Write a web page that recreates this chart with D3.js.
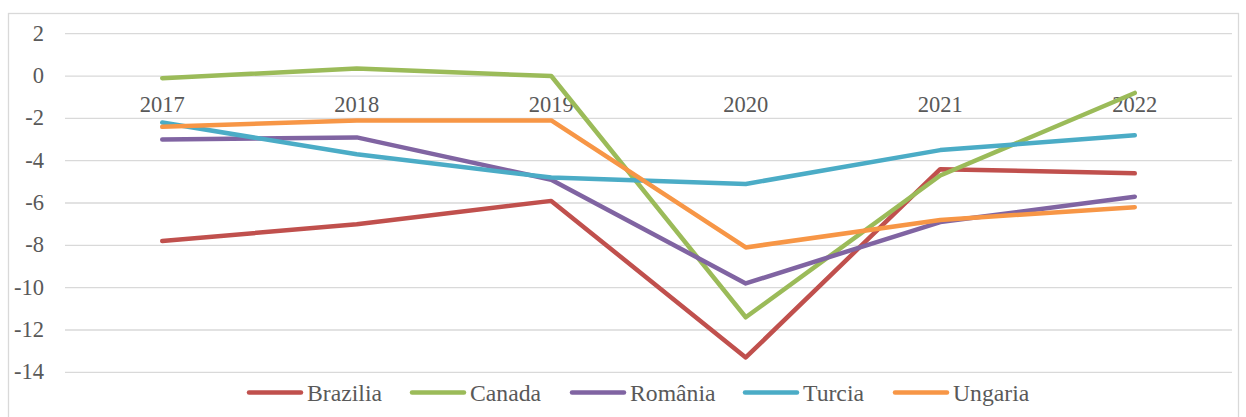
<!DOCTYPE html>
<html lang="en">
<head>
<meta charset="UTF-8">
<script src="https://d3js.org/d3.v7.min.js"></script>
<style>
    body { margin: 0; background: #fff; }
    svg text { font-family: "Liberation Serif", "Times New Roman", serif; fill: #595959; }
</style>
</head>
<body>
<svg width="1246" height="417"></svg>
<script>
    // chart data
    const years = ["2017", "2018", "2019", "2020", "2021", "2022"];
    const brazilia = [-7.8, -7.0, -5.9, -13.3, -4.4, -4.6];
    const canada = [-0.1, 0.35, 0.0, -11.4, -4.7, -0.8];
    const romania = [-3.0, -2.9, -4.9, -9.8, -6.9, -5.7];
    const turcia = [-2.2, -3.7, -4.8, -5.1, -3.5, -2.8];
    const ungaria = [-2.4, -2.1, -2.1, -8.1, -6.8, -6.2];
    const seriesNames = ["Brazilia", "Canada", "România", "Turcia", "Ungaria"];
    const yTicks = [2, 0, -2, -4, -6, -8, -10, -12, -14];

    const seriesValues = [brazilia, canada, romania, turcia, ungaria];
    const colors = ["#C0504D", "#9BBB59", "#8064A2", "#4BACC6", "#F79646"];

    const svg = d3.select("svg");

    // outer border
    svg.append("rect")
        .attr("x", 8.5).attr("y", 13.5)
        .attr("width", 1230).attr("height", 420)
        .attr("fill", "none")
        .attr("stroke", "#D9D9D9")
        .attr("stroke-width", 1.3);

    const x = d3.scaleBand().domain(years).range([65, 1232]);
    const y = d3.scaleLinear().domain([-14, 2]).range([372.3, 33.7]);

    // gridlines
    svg.append("g").selectAll("line")
        .data(yTicks)
        .join("line")
        .attr("x1", 65).attr("x2", 1232)
        .attr("y1", d => y(d)).attr("y2", d => y(d))
        .attr("stroke", "#D9D9D9")
        .attr("stroke-width", 1.3);

    // y tick labels
    svg.append("g").selectAll("text")
        .data(yTicks)
        .join("text")
        .attr("x", 44)
        .attr("y", d => y(d) + 7)
        .attr("text-anchor", "end")
        .attr("font-size", 22.5)
        .text(d => d);

    // category labels, sitting below the zero line
    svg.append("g").selectAll("text")
        .data(years)
        .join("text")
        .attr("x", d => x(d) + x.bandwidth() / 2)
        .attr("y", y(0) + 36)
        .attr("text-anchor", "middle")
        .attr("font-size", 22.5)
        .text(d => d);

    // lines
    const line = d3.line()
        .x((d, i) => x(years[i]) + x.bandwidth() / 2)
        .y(d => y(d));

    seriesValues.forEach((vals, i) => {
        svg.append("path")
            .datum(vals)
            .attr("fill", "none")
            .attr("stroke", colors[i])
            .attr("stroke-width", 4.5)
            .attr("stroke-linecap", "round")
            .attr("stroke-linejoin", "round")
            .attr("d", line);
    });

    // legend
    const legendX = [247, 410, 570, 743, 893];
    const legend = svg.append("g");
    seriesNames.forEach((name, i) => {
        legend.append("line")
            .attr("x1", legendX[i] + 2).attr("x2", legendX[i] + 54)
            .attr("y1", 392.5).attr("y2", 392.5)
            .attr("stroke", colors[i])
            .attr("stroke-width", 4.5)
            .attr("stroke-linecap", "round");
        legend.append("text")
            .attr("x", legendX[i] + 60)
            .attr("y", 401)
            .attr("font-size", 23.7)
            .text(name);
    });
</script>
</body>
</html>
